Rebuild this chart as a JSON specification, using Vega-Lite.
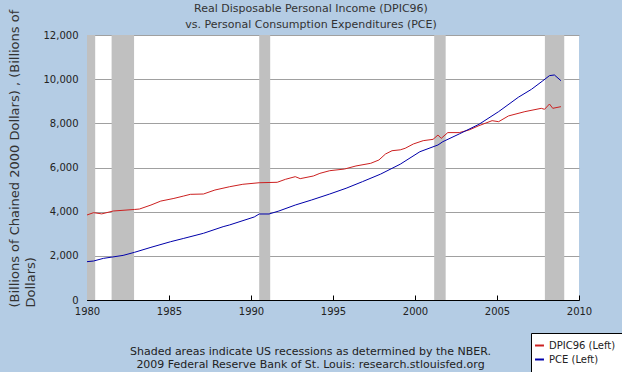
{
  "$schema": "https://vega.github.io/schema/vega-lite/v6.json",
  "width": 492,
  "height": 265,
  "autosize": {"type": "none"},
  "padding": {"left": 87, "top": 35, "right": 43, "bottom": 72},
  "background": "#B4CCE4",
  "config": {
    "view": {"stroke": null, "fill": "white"},
    "font": "DejaVu Sans"
  },
  "title": {
    "text": ["Real Disposable Personal Income (DPIC96)", "vs.  Personal Consumption Expenditures (PCE)"],
    "fontSize": 11,
    "fontWeight": "normal",
    "font": "DejaVu Sans",
    "color": "#333333",
    "lineHeight": 16,
    "anchor": "middle",
    "dx": -22,
    "dy": 28,
    "offset": 7
  },
  "datasets": {
    "rec": [
      {"year": 1980.0, "end": 1980.5},
      {"year": 1981.5, "end": 1982.87},
      {"year": 1990.5, "end": 1991.17},
      {"year": 2001.17, "end": 2001.87},
      {"year": 2007.92, "end": 2009.1}
    ],
    "series": [
      {"year": 1980.0, "series": "DPIC96 (Left)", "value": 3850},
      {"year": 1980.4, "series": "DPIC96 (Left)", "value": 3955},
      {"year": 1980.9, "series": "DPIC96 (Left)", "value": 3900},
      {"year": 1981.6, "series": "DPIC96 (Left)", "value": 4030},
      {"year": 1982.9, "series": "DPIC96 (Left)", "value": 4100},
      {"year": 1983.2, "series": "DPIC96 (Left)", "value": 4120},
      {"year": 1983.9, "series": "DPIC96 (Left)", "value": 4300},
      {"year": 1984.5, "series": "DPIC96 (Left)", "value": 4480},
      {"year": 1985.3, "series": "DPIC96 (Left)", "value": 4600},
      {"year": 1985.9, "series": "DPIC96 (Left)", "value": 4710},
      {"year": 1986.3, "series": "DPIC96 (Left)", "value": 4785},
      {"year": 1987.1, "series": "DPIC96 (Left)", "value": 4800},
      {"year": 1987.8, "series": "DPIC96 (Left)", "value": 4980},
      {"year": 1988.7, "series": "DPIC96 (Left)", "value": 5130},
      {"year": 1989.5, "series": "DPIC96 (Left)", "value": 5240},
      {"year": 1990.5, "series": "DPIC96 (Left)", "value": 5310},
      {"year": 1991.6, "series": "DPIC96 (Left)", "value": 5330},
      {"year": 1992.1, "series": "DPIC96 (Left)", "value": 5465},
      {"year": 1992.7, "series": "DPIC96 (Left)", "value": 5585},
      {"year": 1993.0, "series": "DPIC96 (Left)", "value": 5495},
      {"year": 1993.8, "series": "DPIC96 (Left)", "value": 5615},
      {"year": 1994.2, "series": "DPIC96 (Left)", "value": 5735},
      {"year": 1994.8, "series": "DPIC96 (Left)", "value": 5855},
      {"year": 1995.7, "series": "DPIC96 (Left)", "value": 5930},
      {"year": 1996.4, "series": "DPIC96 (Left)", "value": 6070},
      {"year": 1997.3, "series": "DPIC96 (Left)", "value": 6190},
      {"year": 1997.8, "series": "DPIC96 (Left)", "value": 6340},
      {"year": 1998.2, "series": "DPIC96 (Left)", "value": 6610},
      {"year": 1998.6, "series": "DPIC96 (Left)", "value": 6760},
      {"year": 1999.1, "series": "DPIC96 (Left)", "value": 6800},
      {"year": 1999.4, "series": "DPIC96 (Left)", "value": 6870},
      {"year": 1999.9, "series": "DPIC96 (Left)", "value": 7065},
      {"year": 2000.5, "series": "DPIC96 (Left)", "value": 7215},
      {"year": 2001.1, "series": "DPIC96 (Left)", "value": 7275},
      {"year": 2001.4, "series": "DPIC96 (Left)", "value": 7470},
      {"year": 2001.6, "series": "DPIC96 (Left)", "value": 7320},
      {"year": 2002.0, "series": "DPIC96 (Left)", "value": 7580},
      {"year": 2002.7, "series": "DPIC96 (Left)", "value": 7580},
      {"year": 2003.3, "series": "DPIC96 (Left)", "value": 7700},
      {"year": 2003.9, "series": "DPIC96 (Left)", "value": 7895},
      {"year": 2004.7, "series": "DPIC96 (Left)", "value": 8120},
      {"year": 2005.1, "series": "DPIC96 (Left)", "value": 8075},
      {"year": 2005.7, "series": "DPIC96 (Left)", "value": 8335},
      {"year": 2006.7, "series": "DPIC96 (Left)", "value": 8530},
      {"year": 2007.7, "series": "DPIC96 (Left)", "value": 8680},
      {"year": 2007.9, "series": "DPIC96 (Left)", "value": 8635},
      {"year": 2008.2, "series": "DPIC96 (Left)", "value": 8875},
      {"year": 2008.4, "series": "DPIC96 (Left)", "value": 8680},
      {"year": 2008.9, "series": "DPIC96 (Left)", "value": 8755},
      {"year": 1980.0, "series": "PCE (Left)", "value": 1735},
      {"year": 1980.4, "series": "PCE (Left)", "value": 1765},
      {"year": 1981.0, "series": "PCE (Left)", "value": 1885},
      {"year": 1982.2, "series": "PCE (Left)", "value": 2020},
      {"year": 1982.9, "series": "PCE (Left)", "value": 2160},
      {"year": 1983.9, "series": "PCE (Left)", "value": 2385},
      {"year": 1985.1, "series": "PCE (Left)", "value": 2640},
      {"year": 1985.9, "series": "PCE (Left)", "value": 2790},
      {"year": 1987.1, "series": "PCE (Left)", "value": 3020},
      {"year": 1988.3, "series": "PCE (Left)", "value": 3320},
      {"year": 1988.7, "series": "PCE (Left)", "value": 3400},
      {"year": 1990.2, "series": "PCE (Left)", "value": 3760},
      {"year": 1990.5, "series": "PCE (Left)", "value": 3895},
      {"year": 1991.1, "series": "PCE (Left)", "value": 3895},
      {"year": 1991.7, "series": "PCE (Left)", "value": 4030},
      {"year": 1992.7, "series": "PCE (Left)", "value": 4300},
      {"year": 1993.7, "series": "PCE (Left)", "value": 4530},
      {"year": 1994.8, "series": "PCE (Left)", "value": 4800},
      {"year": 1995.8, "series": "PCE (Left)", "value": 5060},
      {"year": 1996.8, "series": "PCE (Left)", "value": 5360},
      {"year": 1997.9, "series": "PCE (Left)", "value": 5700},
      {"year": 1999.1, "series": "PCE (Left)", "value": 6150},
      {"year": 2000.3, "series": "PCE (Left)", "value": 6715},
      {"year": 2001.4, "series": "PCE (Left)", "value": 7020},
      {"year": 2001.7, "series": "PCE (Left)", "value": 7170},
      {"year": 2002.7, "series": "PCE (Left)", "value": 7520},
      {"year": 2003.9, "series": "PCE (Left)", "value": 7955},
      {"year": 2005.1, "series": "PCE (Left)", "value": 8530},
      {"year": 2006.3, "series": "PCE (Left)", "value": 9180},
      {"year": 2007.1, "series": "PCE (Left)", "value": 9540},
      {"year": 2007.8, "series": "PCE (Left)", "value": 9930},
      {"year": 2008.2, "series": "PCE (Left)", "value": 10160},
      {"year": 2008.5, "series": "PCE (Left)", "value": 10190},
      {"year": 2008.9, "series": "PCE (Left)", "value": 9930}
    ]
  },
  "encoding": {
    "x": {
      "field": "year",
      "type": "quantitative",
      "scale": {"domain": [1980, 2010], "nice": false, "zero": false},
      "axis": {
        "values": [1980, 1985, 1990, 1995, 2000, 2005, 2010],
        "format": "d",
        "grid": false,
        "domainColor": "#000000",
        "tickColor": "#000000",
        "tickSize": -5,
        "labelFontSize": 10,
        "labelFont": "DejaVu Sans",
        "labelColor": "#222222",
        "labelPadding": 11,
        "labelFlush": false,
        "title": ["Shaded areas indicate US recessions as determined by the NBER.", "2009 Federal Reserve Bank of St. Louis: research.stlouisfed.org"],
        "titleFont": "DejaVu Sans",
        "titleFontSize": 11,
        "titleFontWeight": "normal",
        "titleColor": "#222222",
        "titleLineHeight": 13,
        "titleX": 223,
        "titleY": 45,
        "titleAlign": "center",
        "titleBaseline": "top"
      }
    }
  },
  "layer": [
    {
      "data": {"name": "rec"},
      "mark": {"type": "rect", "color": "#C0C0C0"},
      "encoding": {"x2": {"field": "end"}}
    },
    {
      "data": {"name": "series"},
      "mark": {"type": "line", "strokeWidth": 1},
      "encoding": {
        "y": {
          "field": "value",
          "type": "quantitative",
          "scale": {"domain": [0, 12000], "nice": false},
          "axis": {
            "values": [0, 2000, 4000, 6000, 8000, 10000, 12000],
            "format": ",d",
            "grid": true,
            "gridColor": "#A0A0A0",
            "domainColor": "#000000",
            "tickColor": "#000000",
            "tickSize": -5,
            "labelFontSize": 10,
            "labelFont": "DejaVu Sans",
            "labelColor": "#222222",
            "labelPadding": 14,
            "labelFlush": false,
            "title": ["(Billions of Chained 2000 Dollars) , (Billions of", "Dollars)"],
            "titleFont": "DejaVu Sans",
            "titleFontSize": 13,
            "titleFontWeight": "normal",
            "titleColor": "#333333",
            "titleLineHeight": 16,
            "titleAngle": 270,
            "titleAlign": "left",
            "titleBaseline": "top",
            "titleX": -79,
            "titleY": 272
          }
        },
        "color": {
          "field": "series",
          "type": "nominal",
          "scale": {"domain": ["DPIC96 (Left)", "PCE (Left)"], "range": ["#CC2020", "#0000AA"]},
          "legend": {
            "orient": "none",
            "legendX": 444,
            "legendY": 298,
            "title": null,
            "fillColor": "#FFFFFF",
            "strokeColor": "#000000",
            "padding": 7,
            "rowPadding": 3,
            "symbolType": "stroke",
            "symbolStrokeWidth": 2,
            "symbolSize": 80,
            "symbolOffset": -4,
            "labelFontSize": 10,
            "labelFont": "DejaVu Sans",
            "labelColor": "#222222",
            "labelOffset": 4
          }
        }
      }
    }
  ]
}
